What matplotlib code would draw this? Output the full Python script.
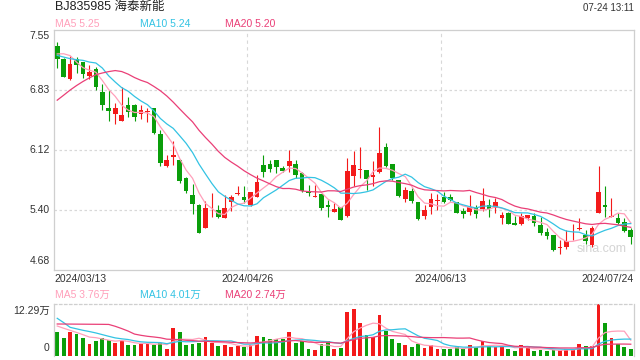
import numpy as np
import matplotlib
matplotlib.use("Agg")
import matplotlib.pyplot as plt

plt.rcParams["font.family"] = ["Liberation Sans", "Noto Sans CJK SC"]

# daily bars 2024/03/13 .. 2024/07/24 (90 trading days)
opens = [7.35, 7.20, 6.96, 7.20, 7.16, 7.00, 7.08, 6.81, 6.62, 6.54,
         6.46, 6.65, 6.65, 6.54, 6.57, 6.62, 6.31, 5.92, 6.03, 6.00,
         5.78, 5.58, 5.46, 5.19, 5.43, 5.40, 5.31, 5.49, 5.59, 5.56,
         5.46, 5.56, 5.94, 5.95, 6.00, 5.90, 5.92, 5.95, 5.84, 5.61,
         5.56, 5.59, 5.46, 5.38, 5.43, 5.33, 5.81, 5.88, 5.88, 5.79,
         5.85, 6.15, 5.95, 5.76, 5.53, 5.63, 5.50, 5.33, 5.44, 5.51,
         5.55, 5.55, 5.49, 5.39, 5.38, 5.42, 5.41, 5.46, 5.42, 5.31,
         5.37, 5.25, 5.23, 5.31, 5.33, 5.22, 5.14, 5.10, 4.95, 4.96,
         5.12, 5.17, 5.10, 4.98, 5.37, 5.46, 5.32, 5.31, 5.26, 5.16]
highs = [7.40, 7.21, 7.24, 7.22, 7.16, 7.13, 7.10, 6.90, 6.83, 6.68,
         6.86, 6.75, 6.66, 6.65, 6.62, 6.62, 6.35, 6.06, 6.22, 6.01,
         5.79, 5.71, 5.47, 5.51, 5.60, 5.46, 5.58, 5.58, 5.69, 5.68,
         5.61, 5.82, 6.05, 6.00, 6.00, 5.92, 6.11, 6.00, 5.85, 5.70,
         5.70, 5.59, 5.52, 5.48, 5.44, 6.02, 6.10, 6.15, 5.88, 5.98,
         6.39, 6.20, 5.95, 5.76, 5.67, 5.66, 5.50, 5.46, 5.60, 5.59,
         5.62, 5.59, 5.50, 5.42, 5.58, 5.46, 5.66, 5.53, 5.54, 5.38,
         5.38, 5.33, 5.36, 5.34, 5.36, 5.32, 5.18, 5.10, 5.04, 5.16,
         5.23, 5.30, 5.16, 5.21, 5.92, 5.68, 5.54, 5.37, 5.31, 5.18]
lows = [7.09, 6.98, 6.95, 7.03, 6.97, 6.96, 6.83, 6.59, 6.46, 6.43,
        6.46, 6.51, 6.46, 6.48, 6.45, 6.30, 5.92, 5.91, 5.94, 5.72,
        5.60, 5.35, 5.12, 5.18, 5.32, 5.30, 5.30, 5.39, 5.58, 5.48,
        5.45, 5.55, 5.79, 5.85, 5.84, 5.85, 5.85, 5.78, 5.61, 5.57,
        5.56, 5.40, 5.32, 5.38, 5.28, 5.32, 5.68, 5.78, 5.64, 5.68,
        5.84, 5.91, 5.76, 5.56, 5.50, 5.48, 5.28, 5.29, 5.35, 5.40,
        5.48, 5.51, 5.36, 5.31, 5.34, 5.31, 5.39, 5.32, 5.36, 5.23,
        5.23, 5.22, 5.22, 5.28, 5.21, 5.10, 5.06, 4.91, 4.88, 4.94,
        5.04, 5.16, 5.00, 4.96, 5.36, 5.32, 5.32, 5.23, 5.14, 5.00]
closes = [7.20, 6.99, 7.14, 7.13, 7.02, 7.05, 6.87, 6.65, 6.58, 6.62,
          6.53, 6.57, 6.51, 6.59, 6.58, 6.32, 5.96, 6.00, 6.05, 5.74,
          5.63, 5.47, 5.13, 5.42, 5.44, 5.32, 5.42, 5.55, 5.60, 5.52,
          5.61, 5.73, 5.85, 5.89, 5.91, 5.87, 5.98, 5.82, 5.63, 5.60,
          5.57, 5.42, 5.43, 5.41, 5.28, 5.86, 5.94, 5.89, 5.77, 5.82,
          6.08, 5.92, 5.78, 5.57, 5.64, 5.51, 5.29, 5.40, 5.53, 5.52,
          5.49, 5.52, 5.36, 5.35, 5.43, 5.35, 5.51, 5.41, 5.49, 5.34,
          5.23, 5.22, 5.33, 5.34, 5.25, 5.12, 5.09, 4.92, 4.96, 5.03,
          5.13, 5.18, 5.03, 5.19, 5.62, 5.43, 5.33, 5.24, 5.15, 5.08]
# volume in 万股
volumes = [5.78, 4.28, 5.78, 5.23, 4.28, 2.92, 3.57, 4.28, 3.73, 3.16,
           3.64, 2.61, 2.61, 2.92, 3.16, 2.61, 3.16, 1.66, 6.66, 5.78,
           2.61, 2.92, 3.16, 4.52, 3.16, 2.38, 2.61, 2.07, 2.45, 2.21,
           2.61, 4.75, 4.52, 4.04, 4.04, 4.04, 5.78, 3.16, 3.57, 1.66,
           1.43, 2.85, 3.57, 1.66, 1.90, 10.53, 11.17, 7.92, 4.99, 4.44,
           9.75, 6.01, 4.04, 3.16, 2.61, 2.14, 2.92, 1.97, 2.61, 1.66,
           1.66, 1.66, 2.21, 1.66, 2.61, 2.07, 3.57, 2.38, 2.21, 2.38,
           1.66, 1.19, 2.61, 2.07, 1.19, 1.43, 1.19, 1.43, 1.43, 1.66,
           1.43, 2.85, 2.38, 2.38, 12.29, 7.92, 4.21, 2.85, 2.21, 1.66]
# the 19 sessions before 03/13, only needed for the moving averages
prev_closes = [5.80, 5.92, 6.05, 6.05, 6.18, 6.12, 6.25, 6.24, 6.38, 6.76,
               7.19, 7.33, 7.25, 7.10, 7.255, 6.98, 7.25, 7.52, 7.35]
prev_volumes = [4.5, 6.0, 5.5, 4.5, 3.2, 3.8, 4.5, 4.2, 12.0, 14.4,
                14.5, 17.0, 8.8, 7.8, 5.85, 6.93, 8.28, 7.73, 6.93]

date_labels = ["2024/03/13", "2024/04/26", "2024/06/13", "2024/07/24"]
date_pos = [0, 30, 60, 89]
price_ticks = [7.55, 6.83, 6.12, 5.40, 4.68]
price_ma_text = ["MA5 5.25", "MA10 5.24", "MA20 5.20"]
vol_ma_text = ["MA5 3.76万", "MA10 4.01万", "MA20 2.74万"]
vol_max = 12.29

RED = "#f31a1a"
GREEN = "#0a9e0a"
MA_COLORS = ["#ff9fba", "#33c3e3", "#ea3f77"]
FRAME = "#cfcfcf"
GRID = "#d8d8d8"


def sma(series, prev, n):
    full = np.concatenate([prev, series])
    return np.convolve(full, np.ones(n) / n, mode="valid")[-len(series):]


o = np.array(opens)
h = np.array(highs)
l = np.array(lows)
c = np.array(closes)
v = np.array(volumes)
x = np.arange(len(c))
colors = np.where(c >= o, RED, GREEN)

W, H = 640, 360
fig = plt.figure(figsize=(6.4, 3.6), dpi=100)


def px_axes(left, top, right, bottom):
    return fig.add_axes([left / W, 1 - bottom / H, (right - left) / W, (bottom - top) / H])


ax = px_axes(54, 29.6, 634, 270.4)
axv = px_axes(54, 304.3, 634, 356)

# ---- price panel
ax.vlines(x, l, h, colors=colors, linewidth=0.8, zorder=2)
body = np.maximum(np.abs(c - o), 0.008)
ax.bar(x, body, bottom=np.minimum(o, c), width=0.74, color=colors, linewidth=0, zorder=3)
for n, col in zip([5, 10, 20], MA_COLORS):
    ax.plot(x, sma(c, prev_closes, n), color=col, linewidth=0.9, zorder=4)

ax.set_xlim(-0.5, len(c) - 0.5)
ax.set_ylim(price_ticks[-1], price_ticks[0])
for p in price_ticks[1:-1]:
    ax.axhline(p, color=GRID, linestyle=(0, (2, 2)), linewidth=0.9, zorder=1)
for d in date_pos[1:3]:
    ax.axvline(d - 0.5, color=GRID, linestyle=(0, (3, 3)), linewidth=0.8, zorder=1)
ax.set_xticks([])
ax.set_yticks([])
for s in ax.spines.values():
    s.set_color(FRAME)
    s.set_linewidth(0.9)

for i, p in enumerate(price_ticks):
    va = "top" if i == 0 else ("bottom" if i == len(price_ticks) - 1 else "center")
    dy = -1 if i == 0 else (3 if i == len(price_ticks) - 1 else 0)
    ax.annotate(f"{p:.2f}", xy=(0, p), xycoords=("axes fraction", "data"),
                xytext=(-3, dy), textcoords="offset points",
                ha="right", va=va, fontsize=7.5, color="#333333")

for lab, d, ha in zip(date_labels, date_pos, ["left", "center", "center", "right"]):
    xd = -0.5 if ha == "left" else (d + 0.5 if ha == "right" else d - 0.5)
    ax.annotate(lab, xy=(xd, 0), xycoords=("data", "axes fraction"),
                xytext=(0, -2.5), textcoords="offset points",
                ha=ha, va="top", fontsize=7.5, color="#333333")

ax.text(0.945, 0.09, "sina.com", transform=ax.transAxes, ha="center", va="center",
        fontsize=9, color="#d4d4d4", zorder=0)

# ---- volume panel
axv.bar(x, v, width=0.6, color=colors, linewidth=0, zorder=2)
for n, col in zip([5, 10, 20], MA_COLORS):
    axv.plot(x, sma(v, prev_volumes, n), color=col, linewidth=0.9, zorder=3)
axv.set_xlim(-0.5, len(c) - 0.5)
axv.set_ylim(0, vol_max)
for d in date_pos[1:3]:
    axv.axvline(d - 0.5, color=GRID, linestyle=(0, (3, 3)), linewidth=0.8, zorder=1)
axv.set_xticks([])
axv.set_yticks([])
axv.spines["top"].set_linestyle((0, (2, 2)))
axv.spines["bottom"].set_visible(False)
for s in axv.spines.values():
    s.set_color(FRAME)
    s.set_linewidth(0.9)
axv.annotate(f"{vol_max:.2f}万", xy=(0, vol_max), xycoords=("axes fraction", "data"),
             xytext=(-3, -1.5), textcoords="offset points",
             ha="right", va="top", fontsize=7.5, color="#333333")
axv.annotate("0", xy=(0, 0), xycoords=("axes fraction", "data"),
             xytext=(-3, 2), textcoords="offset points",
             ha="right", va="bottom", fontsize=7.5, color="#333333")

# ---- header texts
fig.text(55 / W, 1 - 7 / H, "BJ835985 海泰新能", ha="left", va="center",
         fontsize=9, color="#222222")
fig.text(634 / W, 1 - 8 / H, "07-24 13:11", ha="right", va="center",
         fontsize=7, color="#333333")
for txt, col, xp in zip(price_ma_text, MA_COLORS, [55, 140, 225]):
    fig.text(xp / W, 1 - 24.3 / H, txt, ha="left", va="center", fontsize=7.5, color=col)
for txt, col, xp in zip(vol_ma_text, MA_COLORS, [55, 140, 225]):
    fig.text(xp / W, 1 - 295 / H, txt, ha="left", va="center", fontsize=7.5, color=col)

fig.savefig("out.png", dpi=100)
